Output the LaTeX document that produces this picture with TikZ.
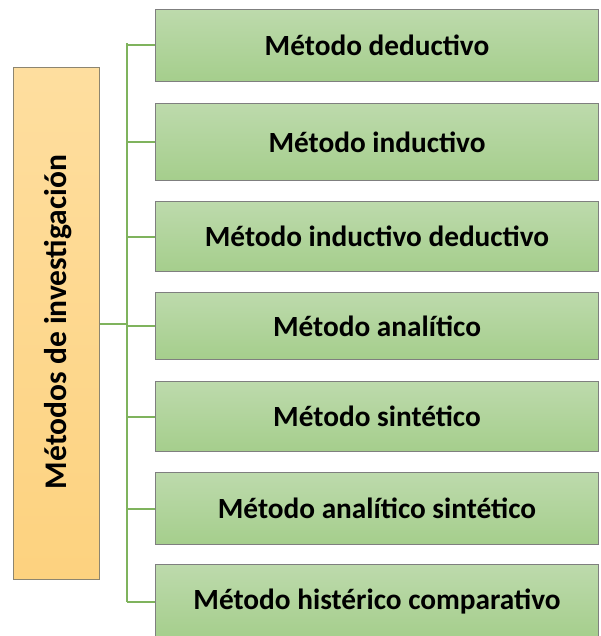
\documentclass[tikz,border=0pt]{standalone}
\usepackage{fontspec}
\setmainfont{Carlito}
\definecolor{glight}{HTML}{BDDAAC}
\definecolor{gdark}{HTML}{A5CE8C}
\definecolor{olight}{HTML}{FEDE9F}
\definecolor{odark}{HTML}{FDD27F}
\definecolor{boxgray}{HTML}{7F7F7F}
\definecolor{ogray}{HTML}{8C8570}
\definecolor{conncol}{HTML}{7FB35D}
\begin{document}
\begin{tikzpicture}[x=1pt,y=-1pt,
  gbox/.style={draw=boxgray, line width=1pt, top color=glight, bottom color=gdark,
    minimum width=443pt, inner sep=0pt, anchor=north west,
    font=\bfseries\fontsize{29.3}{32}\selectfont, text=black},
  obox/.style={draw=ogray, line width=1pt, top color=olight, bottom color=odark,
    minimum width=85.5pt, minimum height=511pt, inner sep=0pt},
  conn/.style={draw=conncol, line width=2pt}]
\useasboundingbox (0,0) rectangle (600,636);
\node[obox] (L) at (56.25,323.5) {};
\node[rotate=90, font=\bfseries\fontsize{31.5}{34}\selectfont, text=black] (Lt) at (58,322) {Métodos de investigación};
\node[gbox, minimum height=72pt] (b1) at (155,9) {Método deductivo};
\node[gbox, minimum height=77pt] (b2) at (155,103) {Método inductivo};
\node[gbox, minimum height=70pt] (b3) at (155,201) {Método inductivo deductivo};
\node[gbox, minimum height=67pt] (b4) at (155,292) {Método analítico};
\node[gbox, minimum height=70pt] (b5) at (155,381) {Método sintético};
\node[gbox, minimum height=72pt] (b6) at (155,472) {Método analítico sintético};
\node[gbox, minimum height=74pt] (b7) at (155,564) {Método histérico comparativo};
\coordinate (top) at (127,43.5);
\coordinate (bot) at (127,601.5);
\draw[conn] (top) -- (bot);
\draw[conn] (L.east) -- (L.east -| top);
\foreach \b in {b1,b2,b3,b4,b5,b6,b7}
  \draw[conn] (\b.west) -- (\b.west -| top);
\end{tikzpicture}
\end{document}
